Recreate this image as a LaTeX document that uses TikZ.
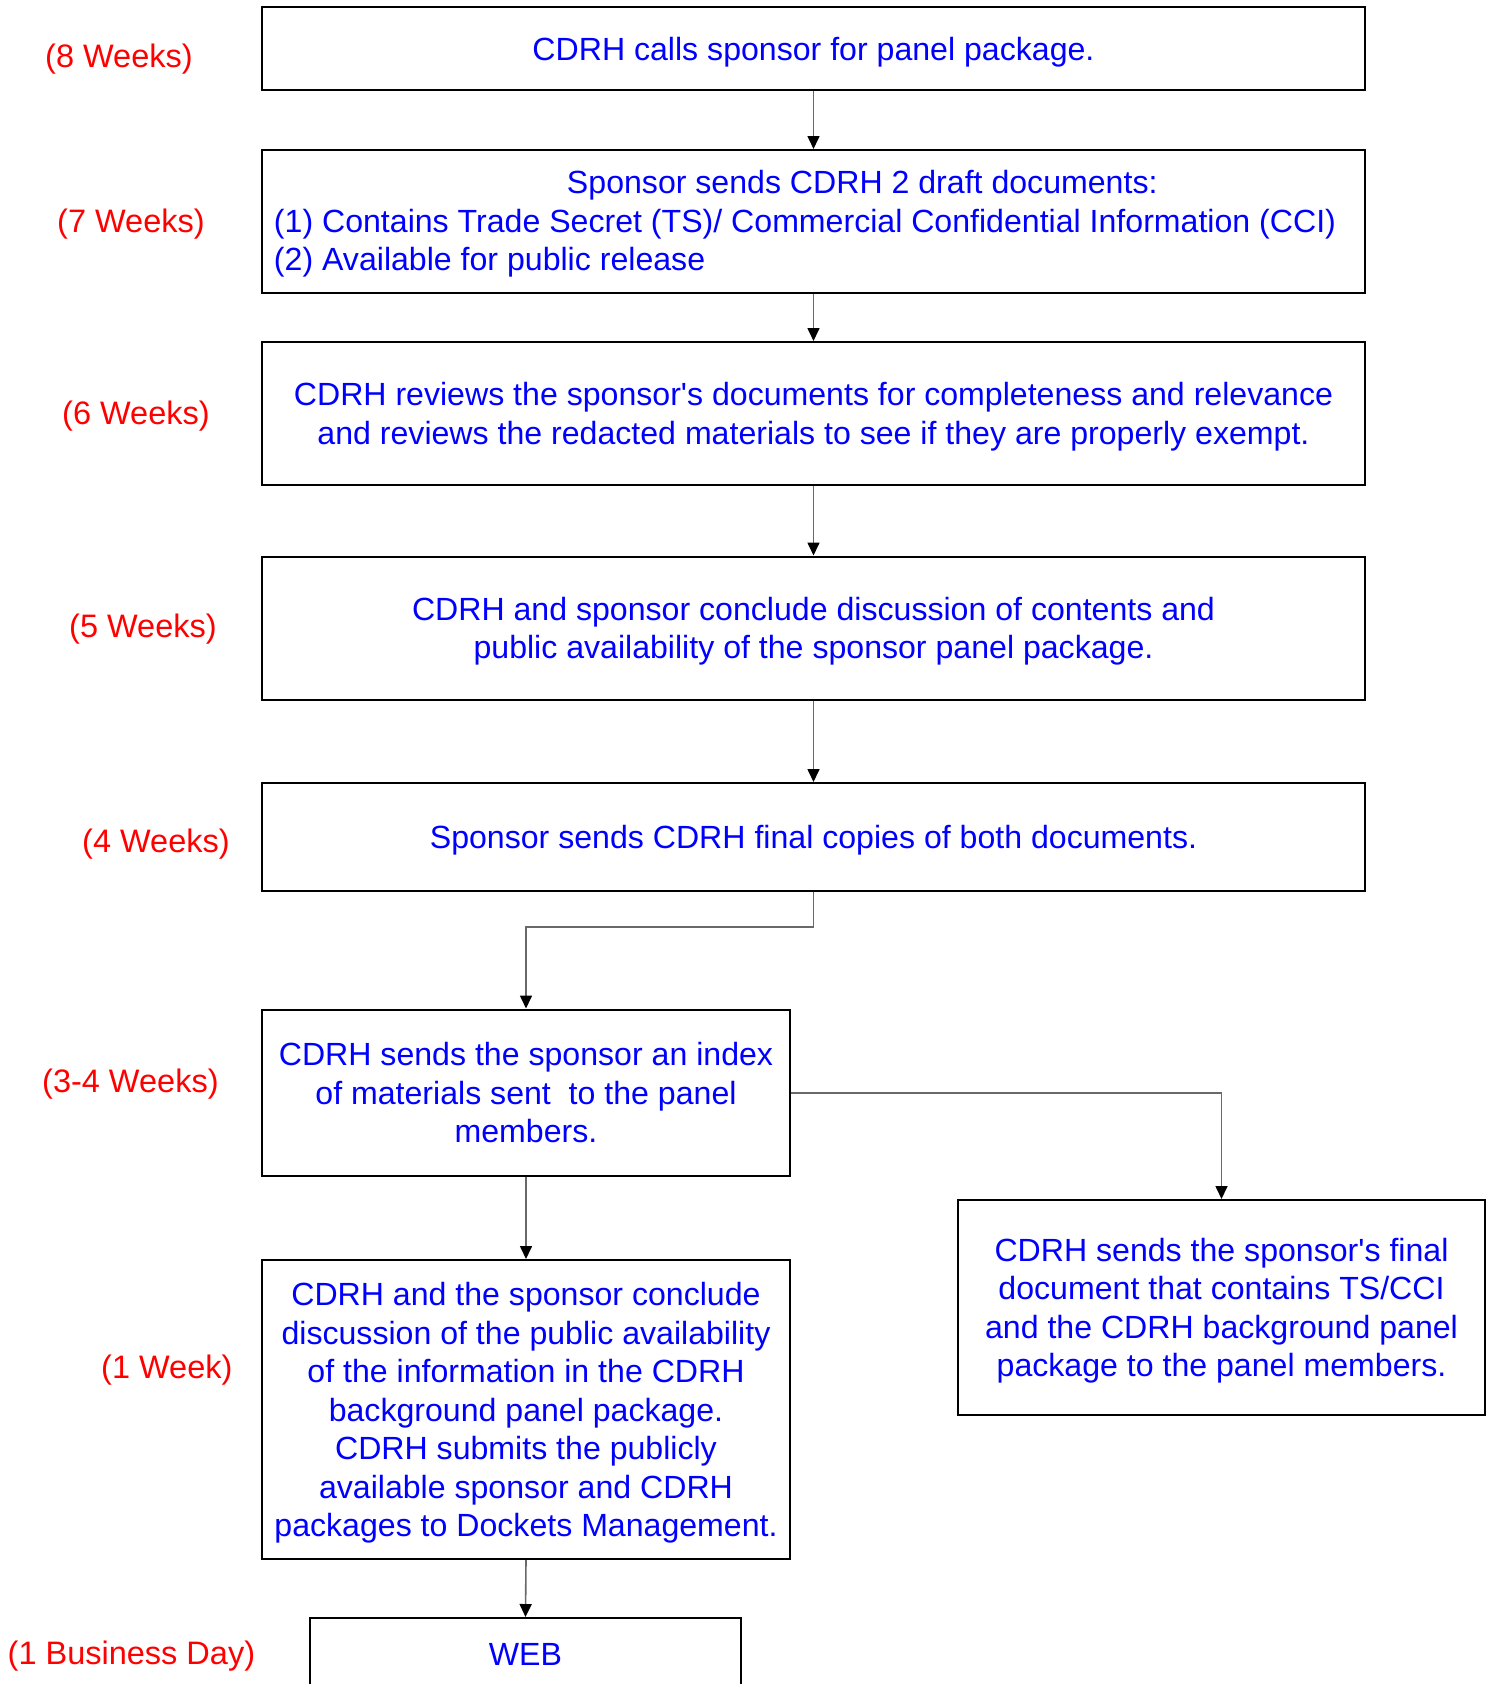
\documentclass[tikz,border=0pt]{standalone}
\usepackage{fontspec}
\setmainfont{Liberation Sans}[Ligatures=TeXOff]
\usetikzlibrary{arrows.meta}
\definecolor{txtblue}{RGB}{0,0,255}
\definecolor{txtred}{RGB}{255,0,0}
\definecolor{linegray}{RGB}{105,105,105}
\begin{document}
\begin{tikzpicture}[x=1pt,y=-1pt,
  boxbase/.style={draw=black, line width=2pt, inner sep=0pt, align=center, text=txtblue,
    font=\fontsize{32.1}{38.5}\selectfont},
  box/.style={boxbase, text depth=0pt},
  wk/.style={anchor=west, text=txtred, inner sep=0pt, text depth=0pt,
    font=\fontsize{32.5}{38.5}\selectfont},
  conn/.style={draw=linegray, line width=1.6pt, -{Triangle[length=13pt,width=12pt,color=black]}}]
\clip (0,0) rectangle (1490,1684);
\fill[white] (0,0) rectangle (1490,1684);

\node[box, minimum width=1103, minimum height=83] (b1) at (813.5,48.5)
  {CDRH calls sponsor for panel package.};
\node[boxbase, minimum width=1103, minimum height=143] (b2) at (813.5,221.5)
  {\begin{tabular}{@{}l@{\hspace{17pt}}}
   \rule{0pt}{33pt}\hspace*{293pt}Sponsor sends CDRH 2 draft documents:\\
   (1) Contains Trade Secret (TS)/ Commercial Confidential Information (CCI)\\
   (2) Available for public release\end{tabular}};
\node[box, minimum width=1103, minimum height=143] (b3) at (813.5,413.5)
  {CDRH reviews the sponsor's documents for completeness and relevance\\
   and reviews the redacted materials to see if they are properly exempt.};
\node[box, minimum width=1103, minimum height=143] (b4) at (813.5,628)
  {CDRH and sponsor conclude discussion of contents and\\
   public availability of the sponsor panel package.};
\node[box, minimum width=1103, minimum height=107.5] (b5) at (813.5,836.75)
  {Sponsor sends CDRH final copies of both documents.};
\node[box, minimum width=528, minimum height=166.5] (b6) at (526,1092.75)
  {CDRH sends the sponsor an index\\ of materials sent\ \ to the panel\\ members.};
\node[box, minimum width=527, minimum height=215] (b7) at (1221.5,1307.5)
  {CDRH sends the sponsor's final\\ document that contains TS/CCI\\ and the CDRH background panel\\ package to the panel members.};
\node[box, minimum width=528, minimum height=299] (b8) at (526,1409.5)
  {CDRH and the sponsor conclude\\ discussion of the public availability\\ of the information in the CDRH\\ background panel package.\\ CDRH submits the publicly\\ available sponsor and CDRH\\ packages to Dockets Management.};
\node[box, minimum width=431, minimum height=72] (b9) at (525.5,1654) {WEB};

\node[wk] (w1) at (45,56) {(8 Weeks)};
\node[wk] (w2) at (57,221) {(7 Weeks)};
\node[wk] (w3) at (62,412.5) {(6 Weeks)};
\node[wk] (w4) at (69,626) {(5 Weeks)};
\node[wk] (w5) at (82,841) {(4 Weeks)};
\node[wk] (w6) at (42,1081) {(3-4 Weeks)};
\node[wk] (w7) at (101,1366.5) {(1 Week)};
\node[wk] (w8) at (7.5,1653) {(1 Business Day)};

\draw[conn] (b1.south) -- (b2.north);
\draw[conn] (b2.south) -- (b3.north);
\draw[conn] (b3.south) -- (b4.north);
\draw[conn] (b4.south) -- (b5.north);
\draw[conn] (b5.south) -- ++(0,35.5) -| (b6.north);
\draw[conn] (b6.east) -| (b7.north);
\draw[conn] (b6.south) -- (b8.north);
\draw[conn] (b8.south) -- (b9.north);
\end{tikzpicture}
\end{document}
